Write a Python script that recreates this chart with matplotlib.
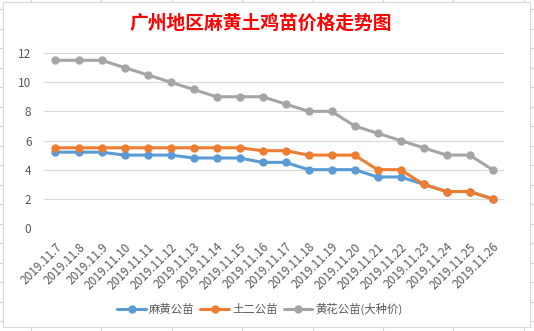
import matplotlib
matplotlib.use('Agg')
import matplotlib.pyplot as plt
from matplotlib.lines import Line2D
from matplotlib.patches import Rectangle

plt.rcParams['font.family'] = ['Noto Sans CJK SC', 'DejaVu Sans']

# 日期
dates = ['2019.11.7', '2019.11.8', '2019.11.9', '2019.11.10', '2019.11.11',
         '2019.11.12', '2019.11.13', '2019.11.14', '2019.11.15', '2019.11.16',
         '2019.11.17', '2019.11.18', '2019.11.19', '2019.11.20', '2019.11.21',
         '2019.11.22', '2019.11.23', '2019.11.24', '2019.11.25', '2019.11.26']

mahuang = [5.2, 5.2, 5.2, 5.0, 5.0, 5.0, 4.8, 4.8, 4.8, 4.5,
           4.5, 4.0, 4.0, 4.0, 3.5, 3.5, 3.0, 2.5, 2.5, 2.0]
tuer = [5.5, 5.5, 5.5, 5.5, 5.5, 5.5, 5.5, 5.5, 5.5, 5.3,
        5.3, 5.0, 5.0, 5.0, 4.0, 4.0, 3.0, 2.5, 2.5, 2.0]
huanghua = [11.5, 11.5, 11.5, 11.0, 10.5, 10.0, 9.5, 9.0, 9.0, 9.0,
            8.5, 8.0, 8.0, 7.0, 6.5, 6.0, 5.5, 5.0, 5.0, 4.0]

series_names = ['麻黄公苗', '土二公苗', '黄花公苗(大种价)']
colors = ['#5B9BD5', '#ED7D31', '#A5A5A5']
yticks = [0, 2, 4, 6, 8, 10, 12]

W, H = 534, 331
fig = plt.figure(figsize=(W / 100, H / 100), dpi=100)
fig.patch.set_facecolor('white')

# excel 单元格背景线
cell = '#D4D4D4'
x = 31.0
while x < W:
    fig.add_artist(Line2D([x / W, x / W], [0, 1], color=cell, lw=0.8, zorder=0))
    x += 70.4
y = 9.0
while y < H:
    fig.add_artist(Line2D([0, 1], [1 - y / H, 1 - y / H], color=cell, lw=0.8, zorder=0))
    y += 19.5

# 图表区域
fig.add_artist(Rectangle((3 / W, 1 - 327 / H), 527 / W, 325 / H,
                         facecolor='white', edgecolor='#D9D9D9', lw=0.8, zorder=1))

ax = fig.add_axes([44 / W, 1 - 228 / H, 460 / W, 175 / H], zorder=2)
ax.patch.set_alpha(0)

xs = list(range(len(dates)))
for vals, name, c in zip([mahuang, tuer, huanghua], series_names, colors):
    ax.plot(xs, vals, color=c, lw=2.2, marker='o', markersize=5,
            label=name, clip_on=False, solid_capstyle='round')

ax.set_xlim(-0.5, len(dates) - 0.5)
ax.set_ylim(0, 12)
ax.set_yticks(yticks)
ax.grid(axis='y', color='#D9D9D9', lw=0.8)
ax.set_axisbelow(True)
for s in ax.spines.values():
    s.set_visible(False)

ax.set_xticks(xs)
ax.set_xticklabels(dates, rotation=45, ha='right', va='top', rotation_mode='anchor')
ax.tick_params(axis='x', length=0, pad=9, labelsize=8.5, labelcolor='#595959')
ax.tick_params(axis='y', length=0, pad=9, labelsize=8.5, labelcolor='#595959')

fig.text(261 / W, 1 - 23 / H, '广州地区麻黄土鸡苗价格走势图', color='red',
         fontsize=13.5, fontweight='bold', ha='center', va='center')

fig.legend(loc='center', bbox_to_anchor=(260 / W, 1 - 309 / H), ncol=3,
           frameon=False, fontsize=8.2, labelcolor='#595959', handlelength=2.5,
           handletextpad=0.3, columnspacing=0.5)

fig.savefig('out.png', dpi=100)
